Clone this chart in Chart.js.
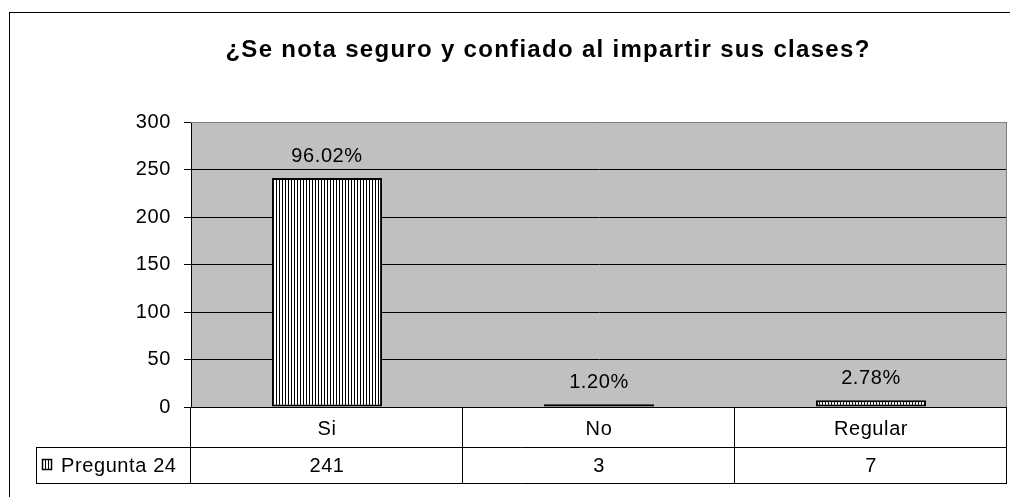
<!DOCTYPE html>
<html>
<head>
<meta charset="utf-8">
<script src="https://cdn.jsdelivr.net/npm/chart.js@4"></script>
<style>
  html, body { margin: 0; padding: 0; background: #fff; }
  #wrap { width: 1010px; height: 497px; }
</style>
</head>
<body>
<div id="wrap"><canvas id="chart" width="1010" height="497"></canvas></div>
<script>
// Data
const categories = ['Si', 'No', 'Regular'];
const values = [241, 3, 7];
const percentLabels = ['96.02%', '1.20%', '2.78%'];
const seriesName = 'Pregunta 24';
const chartTitle = '¿Se nota seguro y confiado al impartir sus clases?';
const yTicks = [0, 50, 100, 150, 200, 250, 300];

const FONT = '"Liberation Sans", Arial, sans-serif';

// vertical stripe fill like the old Excel pattern
function stripes() {
    const c = document.createElement('canvas');
    c.width = 3; c.height = 1;
    const g = c.getContext('2d');
    g.fillStyle = '#fff';
    g.fillRect(0, 0, 3, 1);
    g.fillStyle = '#000';
    g.fillRect(0, 0, 1, 1);
    return g.createPattern(c, 'repeat');
}

const extras = {
    id: 'extras',
    beforeDraw(chart) {
        const { ctx, chartArea: a } = chart;
        ctx.save();
        ctx.fillStyle = '#fff';
        ctx.fillRect(0, 0, chart.width, chart.height);
        ctx.fillStyle = '#c0c0c0';
        ctx.fillRect(a.left, a.top, a.right - a.left, a.bottom - a.top);
        ctx.restore();
        // old GDI text runs a bit wider than Liberation Sans
        ctx.letterSpacing = '0.6px';
    },
    afterDraw(chart) {
        const { ctx, chartArea: a } = chart;
        const x = chart.scales.x;
        ctx.save();
        // outer frame
        ctx.strokeStyle = '#000';
        ctx.lineWidth = 1;
        ctx.strokeRect(9.5, 12.5, chart.width + 20, chart.height + 20);

        // title
        ctx.fillStyle = '#000';
        ctx.font = 'bold 24px ' + FONT;
        ctx.letterSpacing = '1.3px';
        ctx.textAlign = 'center';
        ctx.textBaseline = 'alphabetic';
        ctx.fillText(chartTitle, 548, 57);
        ctx.letterSpacing = '0.6px';

        // plot border
        ctx.strokeStyle = '#808080';
        ctx.beginPath();
        ctx.moveTo(a.left, a.top + 0.5);
        ctx.lineTo(a.right - 0.5, a.top + 0.5);
        ctx.lineTo(a.right - 0.5, a.bottom);
        ctx.stroke();

        // data table
        const r1 = a.bottom, r2 = a.bottom + 40, r3 = a.bottom + 76;
        const legL = 36;
        const step = (a.right - a.left) / categories.length;
        ctx.strokeStyle = '#000';
        ctx.beginPath();
        ctx.moveTo(a.left, r1 + 0.5); ctx.lineTo(a.right, r1 + 0.5);
        ctx.moveTo(legL, r2 + 0.5); ctx.lineTo(a.right, r2 + 0.5);
        ctx.moveTo(legL, r3 + 0.5); ctx.lineTo(a.right, r3 + 0.5);
        ctx.moveTo(legL + 0.5, r2); ctx.lineTo(legL + 0.5, r3);
        for (let i = 0; i <= categories.length; i++) {
            const px = Math.round(a.left + i * step) - 0.5;
            ctx.moveTo(px, r1); ctx.lineTo(px, r3);
        }
        ctx.stroke();

        ctx.fillStyle = '#000';
        ctx.font = '20px ' + FONT;
        ctx.textAlign = 'center';
        ctx.textBaseline = 'middle';
        values.forEach((v, i) => {
            ctx.fillText(String(v), x.getPixelForValue(i), (r2 + r3) / 2 + 1);
        });

        // legend key + name
        const ky = Math.round((r2 + r3) / 2) - 6;
        ctx.fillStyle = '#fff';
        ctx.fillRect(42, ky, 10, 11);
        ctx.strokeStyle = '#000';
        ctx.lineWidth = 1.5;
        ctx.strokeRect(42.5, ky + 0.5, 9, 10);
        ctx.beginPath();
        ctx.moveTo(45.5, ky); ctx.lineTo(45.5, ky + 11);
        ctx.moveTo(48.5, ky); ctx.lineTo(48.5, ky + 11);
        ctx.lineWidth = 1;
        ctx.stroke();
        ctx.fillStyle = '#000';
        ctx.textAlign = 'left';
        ctx.fillText(seriesName, 61, (r2 + r3) / 2 + 1);

        // percent labels over bars
        const meta = chart.getDatasetMeta(0);
        ctx.textAlign = 'center';
        ctx.textBaseline = 'alphabetic';
        meta.data.forEach((bar, i) => {
            ctx.fillText(percentLabels[i], bar.x, bar.y - 16);
        });
        ctx.restore();
    }
};

new Chart(document.getElementById('chart'), {
    type: 'bar',
    data: {
        labels: categories,
        datasets: [{
            label: seriesName,
            data: values,
            backgroundColor: stripes(),
            borderColor: '#000',
            borderWidth: 2,
            borderSkipped: false,
            categoryPercentage: 1,
            barPercentage: 0.405
        }]
    },
    options: {
        responsive: false,
        animation: false,
        layout: { padding: { left: 84, right: 3, top: 122, bottom: 0 } },
        plugins: {
            legend: { display: false },
            tooltip: { enabled: false },
            title: { display: false }
        },
        scales: {
            x: {
                afterFit: s => { s.height = 90; },
                grid: { display: false, drawTicks: false },
                border: { display: false },
                ticks: {
                    color: '#000',
                    padding: 10,
                    font: { family: FONT, size: 20 }
                }
            },
            y: {
                min: 0,
                max: 300,
                afterFit: s => { s.width = 107; },
                afterBuildTicks: s => { s.ticks = yTicks.map(v => ({ value: v })); },
                grid: { color: '#000', lineWidth: 1, tickLength: 7 },
                border: { color: '#000', width: 1 },
                ticks: {
                    color: '#000',
                    padding: 13,
                    font: { family: FONT, size: 20 }
                }
            }
        }
    },
    plugins: [extras]
});
</script>
</body>
</html>
